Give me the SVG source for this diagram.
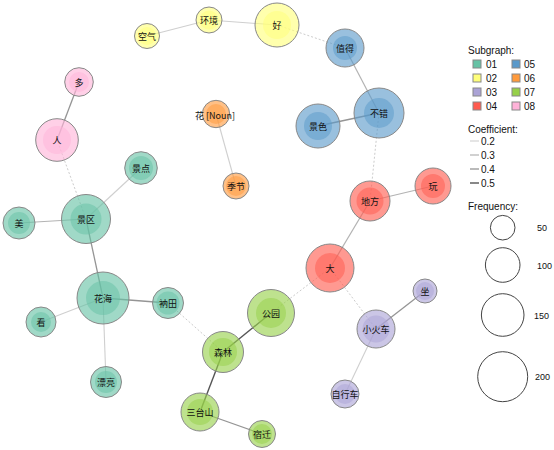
<svg xmlns="http://www.w3.org/2000/svg" width="554" height="450" viewBox="0 0 554 450">
<style>
text{font-family:"Liberation Sans","Noto Sans CJK SC",sans-serif;fill:#111}
.lb{font-size:9px;text-anchor:middle;dominant-baseline:central;font-family:"Noto Sans CJK SC","Liberation Sans",sans-serif}
.lg{font-size:10px}
.o{stroke:#888;stroke-width:1;fill-opacity:0.62}
.i{stroke:none;fill-opacity:0.5}
.e2{stroke:#cfcfcf;stroke-width:1.1;fill:none}
.e3{stroke:#b3b3b3;stroke-width:1.2;fill:none}
.e4{stroke:#959595;stroke-width:1.3;fill:none}
.e5{stroke:#555;stroke-width:1.4;fill:none}
.ed{stroke:#cccccc;stroke-width:1;stroke-dasharray:2 2;fill:none}
.c1{fill:#66C2A5}.c2{fill:#FFFF7A}.c3{fill:#ABA3D6}.c4{fill:#FF5A4E}
.c5{fill:#5A99CA}.c6{fill:#FF9A3C}.c7{fill:#96D048}.c8{fill:#FFB3D9}
.sq{stroke:#888;stroke-width:1}
.fc{fill:none;stroke:#444;stroke-width:1}
</style>
<rect width="554" height="450" fill="#fff"/>
<g id="connectors">
<line class="e2" x1="147" y1="36" x2="209" y2="20"/>
<line class="e2" x1="209" y1="20" x2="277" y2="25"/>
<line class="ed" x1="277" y1="25" x2="345" y2="48"/>
<line class="e3" x1="345" y1="48" x2="379" y2="113"/>
<line class="e4" x1="379" y1="113" x2="318" y2="126"/>
<line class="ed" x1="379" y1="113" x2="370" y2="201"/>
<line class="e3" x1="370" y1="201" x2="433" y2="186"/>
<line class="e3" x1="370" y1="201" x2="330" y2="268"/>
<line class="ed" x1="330" y1="268" x2="271" y2="313"/>
<line class="ed" x1="330" y1="268" x2="376" y2="329"/>
<line class="e4" x1="376" y1="329" x2="425" y2="291"/>
<line class="e2" x1="376" y1="329" x2="345" y2="394"/>
<line class="e5" x1="271" y1="313" x2="223" y2="352"/>
<line class="e5" x1="223" y1="352" x2="200" y2="412"/>
<line class="e4" x1="200" y1="412" x2="262" y2="434"/>
<line class="ed" x1="223" y1="352" x2="168" y2="303"/>
<line class="e4" x1="168" y1="303" x2="103" y2="298"/>
<line class="e2" x1="103" y1="298" x2="41" y2="322"/>
<line class="e2" x1="103" y1="298" x2="106" y2="382"/>
<line class="e4" x1="103" y1="298" x2="86" y2="219"/>
<line class="e3" x1="86" y1="219" x2="19" y2="223"/>
<line class="e2" x1="86" y1="219" x2="141" y2="168"/>
<line class="ed" x1="86" y1="219" x2="57" y2="140"/>
<line class="e4" x1="57" y1="140" x2="79" y2="82"/>
<line class="e2" x1="216" y1="114" x2="236" y2="186"/>
</g>
<g id="n-kongqi"><circle class="o c2" cx="147" cy="36" r="12.5"/><circle class="i c2" cx="147" cy="36" r="9"/><text class="lb" x="147" y="36">空气</text></g>
<g id="n-huanjing"><circle class="o c2" cx="209" cy="20" r="13"/><circle class="i c2" cx="209" cy="20" r="9.5"/><text class="lb" x="209" y="20">环境</text></g>
<g id="n-hao"><circle class="o c2" cx="277" cy="25" r="22"/><circle class="i c2" cx="277" cy="25" r="14"/><text class="lb" x="277" y="25">好</text></g>
<g id="n-zhide"><circle class="o c5" cx="345" cy="48" r="19"/><circle class="i c5" cx="345" cy="48" r="12"/><text class="lb" x="345" y="48">值得</text></g>
<g id="n-bucuo"><circle class="o c5" cx="379" cy="113" r="25"/><circle class="i c5" cx="379" cy="113" r="15"/><text class="lb" x="379" y="113">不错</text></g>
<g id="n-jingse"><circle class="o c5" cx="318" cy="126" r="22"/><circle class="i c5" cx="318" cy="126" r="14"/><text class="lb" x="318" y="126">景色</text></g>
<g id="n-difang"><circle class="o c4" cx="370" cy="201" r="20"/><circle class="i c4" cx="370" cy="201" r="13.5"/><text class="lb" x="370" y="201">地方</text></g>
<g id="n-wan"><circle class="o c4" cx="433" cy="186" r="18"/><circle class="i c4" cx="433" cy="186" r="12"/><text class="lb" x="433" y="186">玩</text></g>
<g id="n-da"><circle class="o c4" cx="330" cy="268" r="24"/><circle class="i c4" cx="330" cy="268" r="15"/><text class="lb" x="330" y="268">大</text></g>
<g id="n-zuo"><circle class="o c3" cx="425" cy="291" r="12"/><circle class="i c3" cx="425" cy="291" r="9"/><text class="lb" x="425" y="291">坐</text></g>
<g id="n-xiaohuoche"><circle class="o c3" cx="376" cy="329" r="19"/><circle class="i c3" cx="376" cy="329" r="13.5"/><text class="lb" x="376" y="329">小火车</text></g>
<g id="n-zixingche"><circle class="o c3" cx="345" cy="394" r="14"/><circle class="i c3" cx="345" cy="394" r="10"/><text class="lb" x="345" y="394">自行车</text></g>
<g id="n-gongyuan"><circle class="o c7" cx="271" cy="313" r="23.5"/><circle class="i c7" cx="271" cy="313" r="15"/><text class="lb" x="271" y="313">公园</text></g>
<g id="n-senlin"><circle class="o c7" cx="223" cy="352" r="20.5"/><circle class="i c7" cx="223" cy="352" r="14"/><text class="lb" x="223" y="352">森林</text></g>
<g id="n-santaishan"><circle class="o c7" cx="200" cy="412" r="19"/><circle class="i c7" cx="200" cy="412" r="13"/><text class="lb" x="200" y="412">三台山</text></g>
<g id="n-suqian"><circle class="o c7" cx="262" cy="434" r="13.5"/><circle class="i c7" cx="262" cy="434" r="10"/><text class="lb" x="262" y="434">宿迁</text></g>
<g id="n-huahai"><circle class="o c1" cx="103" cy="298" r="26"/><circle class="i c1" cx="103" cy="298" r="17"/><text class="lb" x="103" y="298">花海</text></g>
<g id="n-natian"><circle class="o c1" cx="168" cy="303" r="15.5"/><circle class="i c1" cx="168" cy="303" r="11.5"/><text class="lb" x="168" y="303">衲田</text></g>
<g id="n-kan"><circle class="o c1" cx="41" cy="322" r="15"/><circle class="i c1" cx="41" cy="322" r="10"/><text class="lb" x="41" y="322">看</text></g>
<g id="n-piaoliang"><circle class="o c1" cx="106" cy="382" r="15.5"/><circle class="i c1" cx="106" cy="382" r="11"/><text class="lb" x="106" y="382">漂亮</text></g>
<g id="n-jingqu"><circle class="o c1" cx="86" cy="219" r="24.5"/><circle class="i c1" cx="86" cy="219" r="15.5"/><text class="lb" x="86" y="219">景区</text></g>
<g id="n-mei"><circle class="o c1" cx="19" cy="223" r="16"/><circle class="i c1" cx="19" cy="223" r="11"/><text class="lb" x="19" y="223">美</text></g>
<g id="n-jingdian"><circle class="o c1" cx="141" cy="168" r="16.3"/><circle class="i c1" cx="141" cy="168" r="12"/><text class="lb" x="141" y="168">景点</text></g>
<g id="n-ren"><circle class="o c8" cx="57" cy="140" r="21.3"/><circle class="i c8" cx="57" cy="140" r="14"/><text class="lb" x="57" y="140">人</text></g>
<g id="n-duo"><circle class="o c8" cx="79" cy="82" r="14.3"/><circle class="i c8" cx="79" cy="82" r="10"/><text class="lb" x="79" y="82">多</text></g>
<g id="n-hua"><circle class="o c6" cx="216" cy="114" r="13.7"/><circle class="i c6" cx="216" cy="114" r="10"/><text class="lb" x="215" y="115">花 [Noun]</text></g>
<g id="n-jijie"><circle class="o c6" cx="236" cy="186" r="13"/><circle class="i c6" cx="236" cy="186" r="10"/><text class="lb" x="236" y="186">季节</text></g>
<g id="legend">
<text class="lg" x="468" y="54">Subgraph:</text>
<rect class="sq c1" x="473" y="60" width="8" height="8"/><text class="lg" x="486" y="68">01</text>
<rect class="sq c2" x="473" y="74" width="8" height="8"/><text class="lg" x="486" y="82">02</text>
<rect class="sq c3" x="473" y="88" width="8" height="8"/><text class="lg" x="486" y="96">03</text>
<rect class="sq c4" x="473" y="102" width="8" height="8"/><text class="lg" x="486" y="110">04</text>
<rect class="sq c5" x="512" y="60" width="8" height="8"/><text class="lg" x="524" y="68">05</text>
<rect class="sq c6" x="512" y="74" width="8" height="8"/><text class="lg" x="524" y="82">06</text>
<rect class="sq c7" x="512" y="88" width="8" height="8"/><text class="lg" x="524" y="96">07</text>
<rect class="sq c8" x="512" y="102" width="8" height="8"/><text class="lg" x="524" y="110">08</text>
<text class="lg" x="468" y="133">Coefficient:</text>
<line class="e2" x1="470" y1="141" x2="479" y2="141"/><text class="lg" x="481" y="145">0.2</text>
<line class="e3" x1="470" y1="155" x2="479" y2="155"/><text class="lg" x="481" y="159">0.3</text>
<line class="e4" x1="470" y1="169" x2="479" y2="169"/><text class="lg" x="481" y="173">0.4</text>
<line class="e5" x1="470" y1="183" x2="479" y2="183"/><text class="lg" x="481" y="187">0.5</text>
<text class="lg" x="468" y="210">Frequency:</text>
<circle class="fc" cx="502.7" cy="227.7" r="12.3"/><text x="537" y="231" style="font-size:9px">50</text>
<circle class="fc" cx="502.7" cy="265" r="17.3"/><text x="537" y="269" style="font-size:9px">100</text>
<circle class="fc" cx="502.7" cy="315" r="21.3"/><text x="534" y="319" style="font-size:9px">150</text>
<circle class="fc" cx="502.7" cy="376.7" r="25"/><text x="535" y="380" style="font-size:9px">200</text>
</g>
</svg>
